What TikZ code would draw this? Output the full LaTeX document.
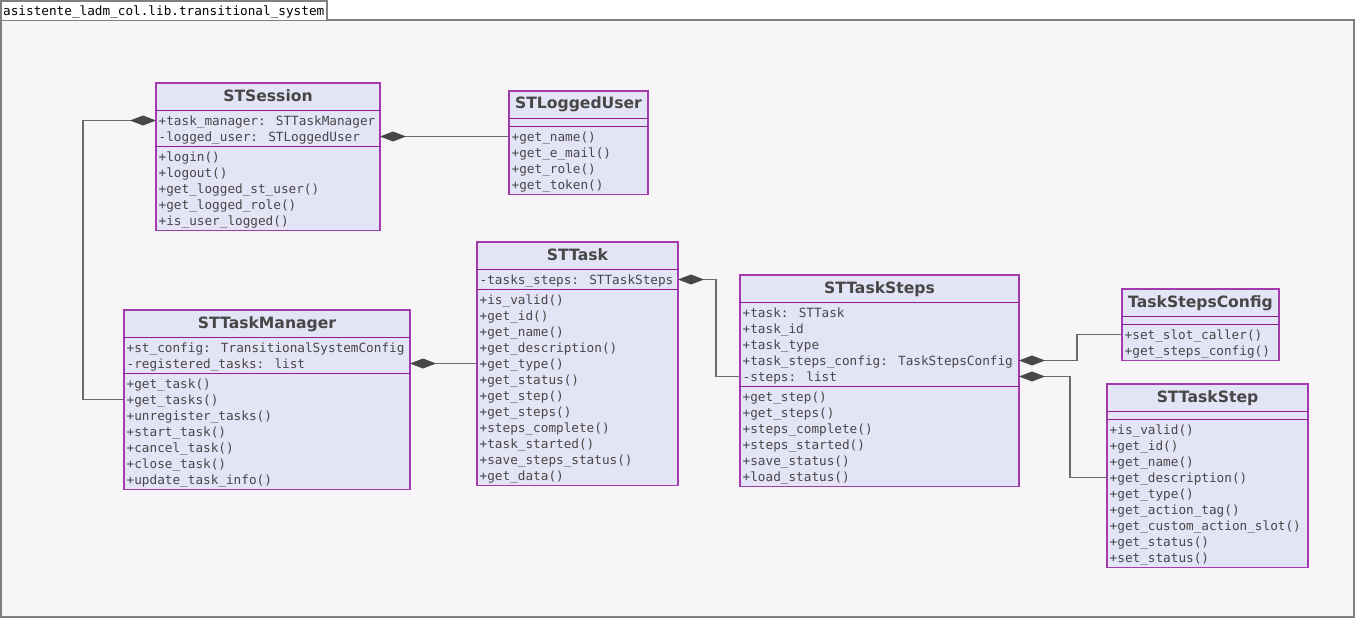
\documentclass[tikz,border=0pt]{standalone}
\usepackage{fontspec}
\newfontfamily\monof{DejaVu Sans Mono}
\newfontfamily\headf{DejaVu Sans}
\usetikzlibrary{arrows.meta}

\definecolor{pkgfill}{HTML}{F7F5F7}
\definecolor{pkgline}{HTML}{808080}
\definecolor{boxfill}{HTML}{E4E4F7}
\definecolor{boxline}{HTML}{A23CAE}
\definecolor{divline}{HTML}{8E1E92}
\definecolor{txt}{HTML}{474747}
\definecolor{wire}{HTML}{6B6B6B}
\definecolor{diam}{HTML}{474747}

\tikzset{
  classbox/.style={rectangle, draw=boxline, fill=boxfill, line width=1.1pt,
    inner sep=0pt, outer sep=0pt, anchor=north west},
  divider/.style={draw=divline, line width=1.1pt},
  rowtext/.style={anchor=base west, inner sep=0pt, text=txt,
    font=\monof\fontsize{12.7}{16}\selectfont},
  titletext/.style={anchor=base, inner sep=0pt, text=txt,
    font=\headf\bfseries\fontsize{15.6}{18}\selectfont},
  comp/.style={draw=wire, line width=1.1pt,
    arrows={Diamond[length=26pt,width=10pt,fill=diam,color=diam]-}},
}

% \umlclass{id}{left}{right}{top}{title}{#attrs}{attrs}{#methods}{methods}
\newcommand\umlclass[9]{%
  \pgfmathsetmacro\yT{#4+27.5}%
  \pgfmathsetmacro\hA{#6==0 ? 8 : 16*#6+4}%
  \pgfmathsetmacro\yA{\yT+\hA}%
  \pgfmathsetmacro\yB{\yA+16*#8+4}%
  \pgfmathsetmacro\bw{#3-#2}%
  \pgfmathsetmacro\bh{\yB-#4}%
  \node[classbox, minimum width=\bw pt, minimum height=\bh pt] (#1) at (#2,#4) {};
  \draw[divider] (#2,\yT) -- (#3,\yT);
  \draw[divider] (#2,\yA) -- (#3,\yA);
  \node[titletext] (#1-title) at ({(#2+#3)/2},{#4+18}) {#5};
  \ifnum#6>0
    \foreach \s [count=\k] in {#7}{
      \coordinate (#1-a\k) at (#2,{\yT+10+16*(\k-1)});
      \node[rowtext] (#1-at\k) at ({#2+2.5},{\yT+14.5+16*(\k-1)}) {\s};
    }
  \fi
  \foreach \s [count=\k] in {#9}{
    \coordinate (#1-m\k) at (#2,{\yA+10+16*(\k-1)});
    \node[rowtext] (#1-mt\k) at ({#2+2.5},{\yA+14.5+16*(\k-1)}) {\s};
  }
}

\begin{document}
\begin{tikzpicture}[x=1pt,y=-1pt]
\useasboundingbox (0,0) rectangle (1358,618);

% package frame and its tab
\node[rectangle, draw=pkgline, fill=pkgfill, line width=2pt, inner sep=0pt,
  outer sep=0pt, anchor=north west, minimum width=1353pt, minimum height=596pt]
  (pkg) at (1,20.5) {};
\node[rectangle, draw=pkgline, fill=white, line width=1.5pt, inner sep=0pt,
  outer sep=0pt, anchor=north west, minimum width=326pt, minimum height=19.5pt]
  (pkgtab) at (1,1) {};
\node[rowtext, text=black] (pkgname) at (3,15.5) {asistente\_ladm\_col.lib.transitional\_system};

% classes
\umlclass{sess}{156}{380}{83}{STSession}{2}{+task\_manager: STTaskManager,-logged\_user: STLoggedUser}{5}{+login(),+logout(),+get\_logged\_st\_user(),+get\_logged\_role(),+is\_user\_logged()}

\umlclass{user}{509}{648}{91}{STLoggedUser}{0}{}{4}{+get\_name(),+get\_e\_mail(),+get\_role(),+get\_token()}

\umlclass{task}{477}{678}{242}{STTask}{1}{-tasks\_steps: STTaskSteps}{12}{+is\_valid(),+get\_id(),+get\_name(),+get\_description(),+get\_type(),+get\_status(),+get\_step(),+get\_steps(),+steps\_complete(),+task\_started(),+save\_steps\_status(),+get\_data()}

\umlclass{mgr}{124}{410}{310}{STTaskManager}{2}{+st\_config: TransitionalSystemConfig,-registered\_tasks: list}{7}{+get\_task(),+get\_tasks(),+unregister\_tasks(),+start\_task(),+cancel\_task(),+close\_task(),+update\_task\_info()}

\umlclass{steps}{740}{1019}{275}{STTaskSteps}{5}{+task: STTask,+task\_id,+task\_type,+task\_steps\_config: TaskStepsConfig,-steps: list}{6}{+get\_step(),+get\_steps(),+steps\_complete(),+steps\_started(),+save\_status(),+load\_status()}

\umlclass{cfg}{1122}{1279}{289}{TaskStepsConfig}{0}{}{2}{+set\_slot\_caller(),+get\_steps\_config()}

\umlclass{step}{1107}{1308}{384}{STTaskStep}{0}{}{9}{+is\_valid(),+get\_id(),+get\_name(),+get\_description(),+get\_type(),+get\_action\_tag(),+get\_custom\_action\_slot(),+get\_status(),+set\_status()}

% bend columns of the routed connectors
\coordinate (bendA) at (83,0);
\coordinate (bendB) at (716,0);
\coordinate (bendC) at (1077,0);
\coordinate (bendD) at (1070,0);

% composition connectors
\draw[comp] (sess.west |- sess-a1) -| (bendA |- mgr-m2) -- (mgr.west |- mgr-m2);
\draw[comp] (sess.east |- sess-a2) -- (user.west |- sess-a2);
\draw[comp] (mgr.east |- mgr-a2) -- (task.west |- mgr-a2);
\draw[comp] (task.east |- task-a1) -| (bendB |- steps-a5) -- (steps.west |- steps-a5);
\draw[comp] (steps.east |- steps-a4) -| (bendC |- cfg-m1) -- (cfg.west |- cfg-m1);
\draw[comp] (steps.east |- steps-a5) -| (bendD |- step-m4) -- (step.west |- step-m4);
\end{tikzpicture}
\end{document}
